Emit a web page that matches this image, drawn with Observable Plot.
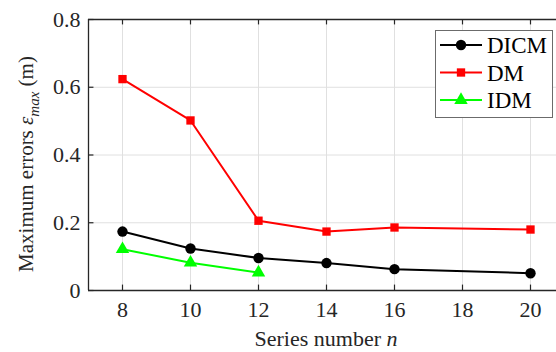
<!DOCTYPE html>
<html>
<head>
<meta charset="utf-8">
<script src="https://cdn.jsdelivr.net/npm/d3@7"></script>
<script src="https://cdn.jsdelivr.net/npm/@observablehq/plot@0.6"></script>
<style>
  html, body { margin: 0; padding: 0; background: #fff; }
  #chart { position: relative; width: 556px; height: 352px; overflow: hidden; }
</style>
</head>
<body>
<div id="chart"></div>
<script>
// ---- data ----
const seriesN = [8, 10, 12, 14, 16, 20];
const dicm = [0.174, 0.124, 0.096, 0.081, 0.063, 0.051];
const dm = [0.624, 0.502, 0.206, 0.174, 0.186, 0.180];
const idmN = [8, 10, 12];
const idm = [0.122, 0.082, 0.053];
const xTicks = [8, 10, 12, 14, 16, 18, 20];
const yTicks = [0, 0.2, 0.4, 0.6, 0.8];
const seriesNames = ["DICM", "DM", "IDM"];
const seriesColors = ["#000000", "#ff0000", "#00ff00"];
const seriesSymbols = ["circle", "square", "triangle"];

const rows = [];
seriesN.forEach((n, i) => rows.push({series: "DICM", n, v: dicm[i]}));
seriesN.forEach((n, i) => rows.push({series: "DM", n, v: dm[i]}));
idmN.forEach((n, i) => rows.push({series: "IDM", n, v: idm[i]}));

const FONT = "Liberation Serif, Times New Roman, serif";
const FS = 22;
const axisColor = "#262626";
const gridColor = "#e0e0e0";

const radii = {circle: 5.2, square: 4.7, triangle: 5};

const marks = [
  Plot.ruleX(xTicks, {stroke: gridColor, strokeWidth: 1}),
  Plot.ruleY(yTicks, {stroke: gridColor, strokeWidth: 1}),
  // frame
  Plot.ruleY([0, 0.8], {stroke: axisColor, strokeWidth: 1.3}),
  Plot.ruleX([7], {stroke: axisColor, strokeWidth: 1.3}),
  // inward ticks
  Plot.ruleX(xTicks, {y1: 0, y2: 0.016, stroke: axisColor, strokeWidth: 1.2}),
  Plot.ruleX(xTicks, {y1: 0.8, y2: 0.784, stroke: axisColor, strokeWidth: 1.2}),
  Plot.ruleY(yTicks, {x1: 7, x2: 7.16, stroke: axisColor, strokeWidth: 1.2}),
  // tick labels
  Plot.text(xTicks, {x: d => d, y: 0, dy: 19, text: d => String(d), fontSize: FS, fontFamily: FONT, fill: axisColor}),
  Plot.text(yTicks, {x: 7, y: d => d, dx: -8, textAnchor: "end", text: d => d === 0 ? "0" : d.toFixed(1), fontSize: FS, fontFamily: FONT, fill: axisColor})
];
seriesNames.forEach((s, i) => {
  const data = rows.filter(r => r.series === s);
  marks.push(Plot.line(data, {x: "n", y: "v", stroke: seriesColors[i], strokeWidth: 2}));
  marks.push(Plot.dot(data, {x: "n", y: "v", symbol: () => seriesSymbols[i], r: radii[seriesSymbols[i]], fill: seriesColors[i], stroke: "none"}));
});

const plot = Plot.plot({
  width: 556,
  height: 352,
  marginLeft: 88,
  marginRight: -8,
  marginTop: 19,
  marginBottom: 62,
  style: {background: "#fff", fontFamily: FONT, overflow: "hidden"},
  x: {domain: [7, 21], axis: null},
  y: {domain: [0, 0.8], axis: null},
  symbol: {domain: seriesSymbols, range: seriesSymbols},
  marks
});
document.getElementById("chart").appendChild(plot);

// ---- axis labels and legend ----
const svg = d3.select(plot);
const xl = svg.append("text")
  .attr("x", 326).attr("y", 346)
  .attr("text-anchor", "middle")
  .style("font-family", FONT).style("font-size", FS + "px").attr("fill", axisColor);
xl.append("tspan").text("Series number ");
xl.append("tspan").attr("font-style", "italic").text("n");

const yl = svg.append("text")
  .attr("transform", "translate(33,164) rotate(-90)")
  .attr("text-anchor", "middle")
  .style("font-family", FONT).style("font-size", "21px").attr("fill", axisColor);
yl.append("tspan").text("Maximum errors ");
yl.append("tspan").attr("font-style", "italic").text("ε");
yl.append("tspan").attr("font-style", "italic").style("font-size", "15px").attr("dy", 6).text("max");
yl.append("tspan").attr("dy", -6).text(" (m)");

const lg = svg.append("g");
lg.append("rect").attr("x", 435.5).attr("y", 30.5).attr("width", 117).attr("height", 87)
  .attr("fill", "#fff").attr("stroke", "#6b6b6b").attr("stroke-width", 1);
const symMap = {circle: d3.symbolCircle, square: d3.symbolSquare, triangle: d3.symbolTriangle};
seriesNames.forEach((s, i) => {
  const cy = 45 + i * 27.5;
  lg.append("line").attr("x1", 440).attr("x2", 482).attr("y1", cy).attr("y2", cy)
    .attr("stroke", seriesColors[i]).attr("stroke-width", 2);
  const r = radii[seriesSymbols[i]];
  lg.append("path").attr("transform", `translate(461,${cy})`)
    .attr("d", d3.symbol(symMap[seriesSymbols[i]], Math.PI * r * r)())
    .attr("fill", seriesColors[i]);
  lg.append("text").attr("x", 487).attr("y", cy).attr("dy", "0.35em")
    .attr("text-anchor", "start")
    .style("font-family", FONT).style("font-size", "23px").attr("fill", "#000").text(s);
});
</script>
</body>
</html>
